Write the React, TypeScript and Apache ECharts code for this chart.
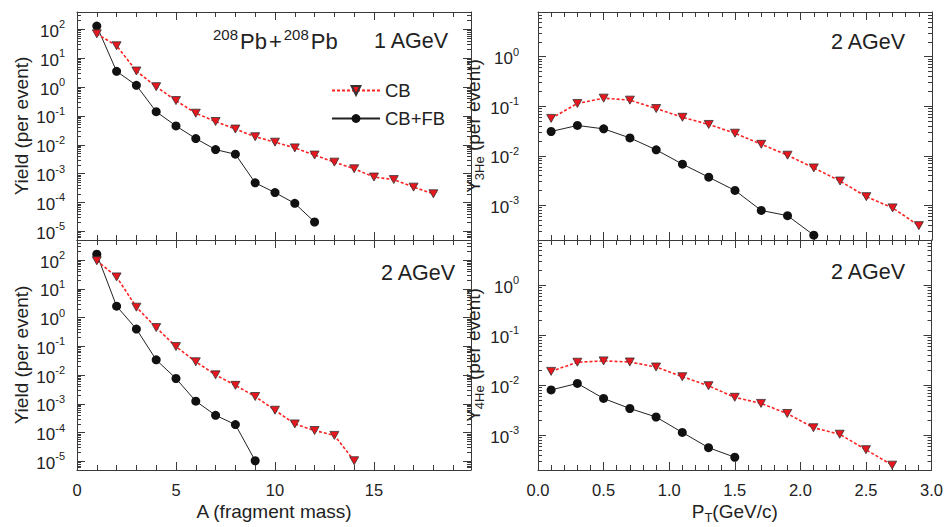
import React, { useEffect, useRef } from "react";
import * as echarts from "echarts";

// ---------- data ----------
// Panel a: 208Pb+208Pb, 1 AGeV, yield vs fragment mass
const massCB1 = [1, 2, 3, 4, 5, 6, 7, 8, 9, 10, 11, 12, 13, 14, 15, 16, 17, 18];
const yieldCB1 = [70, 27, 3.6, 1.03, 0.34, 0.124, 0.064, 0.035, 0.019, 0.0123, 0.0078, 0.0044, 0.0025, 0.00147, 0.00076, 0.00062, 0.00034, 0.0002];
const massFB1 = [1, 2, 3, 4, 5, 6, 7, 8, 9, 10, 11, 12];
const yieldFB1 = [130, 3.5, 1.15, 0.14, 0.045, 0.0164, 0.0068, 0.0047, 0.00048, 0.00022, 0.000093, 0.000021];

// Panel b: 2 AGeV, yield vs fragment mass
const massCB2 = [1, 2, 3, 4, 5, 6, 7, 8, 9, 10, 11, 12, 13, 14];
const yieldCB2 = [95, 26, 2.3, 0.45, 0.098, 0.029, 0.0102, 0.0044, 0.0018, 0.0006, 0.0002, 0.000118, 0.00008, 0.0000105];
const massFB2 = [1, 2, 3, 4, 5, 6, 7, 8, 9];
const yieldFB2 = [160, 2.5, 0.4, 0.034, 0.0076, 0.00124, 0.0004, 0.00019, 0.0000105];

// Panel c: 3He yield vs pT, 2 AGeV
const ptCB3He = [0.1, 0.3, 0.5, 0.7, 0.9, 1.1, 1.3, 1.5, 1.7, 1.9, 2.1, 2.3, 2.5, 2.7, 2.9];
const y3HeCB = [0.057, 0.114, 0.146, 0.133, 0.09, 0.06, 0.043, 0.0286, 0.0171, 0.0103, 0.0057, 0.0031, 0.0015, 0.00089, 0.00039];
const ptFB3He = [0.1, 0.3, 0.5, 0.7, 0.9, 1.1, 1.3, 1.5, 1.7, 1.9, 2.1];
const y3HeFB = [0.031, 0.041, 0.035, 0.023, 0.0132, 0.0068, 0.0037, 0.002, 0.00079, 0.00062, 0.00025];

// Panel d: 4He yield vs pT, 2 AGeV
const ptCB4He = [0.1, 0.3, 0.5, 0.7, 0.9, 1.1, 1.3, 1.5, 1.7, 1.9, 2.1, 2.3, 2.5, 2.7];
const y4HeCB = [0.0188, 0.0287, 0.0305, 0.029, 0.023, 0.0147, 0.0097, 0.0057, 0.0043, 0.0027, 0.0014, 0.00104, 0.00051, 0.00025];
const ptFB4He = [0.1, 0.3, 0.5, 0.7, 0.9, 1.1, 1.3, 1.5];
const y4HeFB = [0.008, 0.0108, 0.0054, 0.0034, 0.0023, 0.00113, 0.00056, 0.00036];

// ---------- ticks ----------
const massMajorTicks = [0, 5, 10, 15];
const massMinorTicks = [1, 2, 3, 4, 6, 7, 8, 9, 11, 12, 13, 14, 16, 17, 18, 19];
const ptMajorTicks = [0, 0.5, 1.0, 1.5, 2.0, 2.5, 3.0];
const ptMinorTicks = [0.1, 0.2, 0.3, 0.4, 0.6, 0.7, 0.8, 0.9, 1.1, 1.2, 1.3, 1.4, 1.6, 1.7, 1.8, 1.9, 2.1, 2.2, 2.3, 2.4, 2.6, 2.7, 2.8, 2.9];
const yieldDecades = [1e-5, 1e-4, 1e-3, 1e-2, 1e-1, 1, 10, 100];
const heDecades = [1e-3, 1e-2, 1e-1, 1];

const seriesNames = ["CB", "CB+FB"];

// ---------- style ----------
const FONT = '"Liberation Sans", Arial, Helvetica, sans-serif';
const INK = "#222";
const AXIS = "#3a3a3a";

function pairs(xs: number[], ys: number[]) {
  return xs.map((x, i) => [x, ys[i]]);
}

function logMinor(min: number, max: number) {
  const out: number[] = [];
  const e0 = Math.floor(Math.log10(min));
  const e1 = Math.ceil(Math.log10(max));
  for (let e = e0; e <= e1; e++) {
    for (let m = 2; m <= 9; m++) {
      const v = Number((m * Math.pow(10, e)).toPrecision(6));
      if (v >= min && v <= max) out.push(v);
    }
  }
  return out;
}

type Panel = {
  grid: { left: number; top: number; width: number; height: number };
  xMin: number;
  xMax: number;
  xMajor: number[];
  xMinor: number[];
  xLabels: boolean;
  xFmt: (v: number) => string;
  xName: string;
  yMin: number;
  yMax: number;
  yDecades: number[];
  yName: string;
  yNameGap: number;
  yLabelMargin: number;
  cb: number[][];
  fb: number[][];
};

const nameRich = {
  a: { fontSize: 19, fontFamily: FONT, color: INK, padding: [0, 0, 3, 0] },
  sub: { fontSize: 13, fontFamily: FONT, color: INK, verticalAlign: "bottom" },
  n: { fontSize: 19, fontFamily: FONT, color: INK },
};

const panels: Panel[] = [
  {
    grid: { left: 77, top: 12, width: 394, height: 228 },
    xMin: 0, xMax: 19.9, xMajor: massMajorTicks, xMinor: massMinorTicks, xLabels: false,
    xFmt: (v) => String(v), xName: "",
    yMin: 5e-6, yMax: 400, yDecades: yieldDecades,
    yName: "{n|Yield (per event)}", yNameGap: 46, yLabelMargin: 12,
    cb: pairs(massCB1, yieldCB1), fb: pairs(massFB1, yieldFB1),
  },
  {
    grid: { left: 77, top: 240, width: 394, height: 230 },
    xMin: 0, xMax: 19.9, xMajor: massMajorTicks, xMinor: massMinorTicks, xLabels: true,
    xFmt: (v) => String(v), xName: "{n|A (fragment mass)}",
    yMin: 5e-6, yMax: 500, yDecades: yieldDecades,
    yName: "{n|Yield (per event)}", yNameGap: 46, yLabelMargin: 12,
    cb: pairs(massCB2, yieldCB2), fb: pairs(massFB2, yieldFB2),
  },
  {
    grid: { left: 538, top: 12, width: 394, height: 228 },
    xMin: 0, xMax: 3, xMajor: ptMajorTicks, xMinor: ptMinorTicks, xLabels: false,
    xFmt: (v) => v.toFixed(1), xName: "",
    yMin: 2e-4, yMax: 8, yDecades: heDecades,
    yName: "{a|Y}{sub|3He}{a| (per event)}", yNameGap: 52, yLabelMargin: 19,
    cb: pairs(ptCB3He, y3HeCB), fb: pairs(ptFB3He, y3HeFB),
  },
  {
    grid: { left: 538, top: 240, width: 394, height: 230 },
    xMin: 0, xMax: 3, xMajor: ptMajorTicks, xMinor: ptMinorTicks, xLabels: true,
    xFmt: (v) => v.toFixed(1), xName: "{a|P}{sub|T}{a|(GeV/c)}",
    yMin: 2e-4, yMax: 8, yDecades: heDecades,
    yName: "{a|Y}{sub|4He}{a| (per event)}", yNameGap: 52, yLabelMargin: 19,
    cb: pairs(ptCB4He, y4HeCB), fb: pairs(ptFB4He, y4HeFB),
  },
];

function buildOption() {
  const grid: any[] = [];
  const xAxis: any[] = [];
  const yAxis: any[] = [];
  const series: any[] = [];
  const lineStyle = { color: AXIS, width: 1 };

  panels.forEach((p, i) => {
    grid.push({ ...p.grid, containLabel: false });
    const xi = xAxis.length;
    const mkX = (pos: string, major: boolean, main: boolean) => ({
      gridIndex: i,
      type: "value",
      position: pos,
      min: p.xMin,
      max: p.xMax,
      axisLine: { show: major, onZero: false, lineStyle },
      axisTick: { show: true, inside: true, length: major ? 8 : 5, customValues: major ? p.xMajor : p.xMinor, lineStyle },
      axisLabel: {
        show: main && p.xLabels,
        customValues: p.xMajor,
        formatter: p.xFmt,
        margin: 11,
        fontSize: 16.5,
        color: INK,
        fontFamily: FONT,
      },
      splitLine: { show: false },
      minorTick: { show: false },
      name: main ? p.xName : "",
      nameLocation: "middle",
      nameGap: 32,
      nameTextStyle: { rich: nameRich },
    });
    xAxis.push(mkX("bottom", true, true), mkX("bottom", false, false), mkX("top", true, false), mkX("top", false, false));

    const yi = yAxis.length;
    const minor = logMinor(p.yMin, p.yMax);
    const mkY = (pos: string, major: boolean, main: boolean) => ({
      gridIndex: i,
      type: "log",
      logBase: 10,
      position: pos,
      min: p.yMin,
      max: p.yMax,
      axisLine: { show: major, onZero: false, lineStyle },
      axisTick: { show: true, inside: true, length: major ? 8 : 4, customValues: major ? p.yDecades : minor, lineStyle },
      axisLabel: {
        show: main,
        customValues: p.yDecades,
        margin: p.yLabelMargin,
        formatter: (v: number) => `{b|10}{s|${Math.round(Math.log10(v))}}`,
        rich: {
          b: { fontSize: 17, fontFamily: FONT, color: INK, padding: [4, 0, 0, 0] },
          s: { fontSize: 11, fontFamily: FONT, color: INK, verticalAlign: "top" },
        },
      },
      splitLine: { show: false },
      minorTick: { show: false },
      name: main ? p.yName : "",
      nameLocation: "middle",
      nameRotate: 90,
      nameGap: p.yNameGap,
      nameTextStyle: { rich: nameRich },
    });
    yAxis.push(mkY("left", true, true), mkY("left", false, false), mkY("right", true, false), mkY("right", false, false));

    series.push({
      type: "line",
      name: seriesNames[0],
      xAxisIndex: xi,
      yAxisIndex: yi,
      data: p.cb,
      symbol: "triangle",
      symbolRotate: 180,
      symbolSize: [9, 8],
      itemStyle: { color: "#e8161e", borderColor: "#333", borderWidth: 0.8 },
      lineStyle: { color: "#ff2222", width: 1.6, type: [3, 2] },
      z: 3,
    });
    series.push({
      type: "line",
      name: seriesNames[1],
      xAxisIndex: xi,
      yAxisIndex: yi,
      data: p.fb,
      symbol: "circle",
      symbolSize: 9,
      itemStyle: { color: "#111" },
      lineStyle: { color: "#222", width: 1 },
      z: 2,
    });
  });

  const annot = (text: string, right: number, y: number) => ({
    type: "text",
    x: right,
    y,
    style: { text, fill: INK, font: `21.5px ${FONT}`, align: "right", verticalAlign: "middle" },
  });

  return {
    animation: false,
    backgroundColor: "#fff",
    grid,
    xAxis,
    yAxis,
    series,
    legend: {
      data: seriesNames,
      orient: "vertical",
      left: 331,
      top: 81,
      padding: 0,
      itemWidth: 48,
      itemHeight: 11,
      itemGap: 9,
      selectedMode: false,
      textStyle: { fontSize: 18.5, color: INK, fontFamily: FONT },
    },
    graphic: [
      {
        type: "text",
        x: 213,
        y: 39.5,
        style: {
          text: "{s|208}{b|Pb}{p|+}{s|208}{b|Pb}",
          verticalAlign: "middle",
          align: "left",
          rich: {
            b: { fontSize: 22, fontFamily: FONT, fill: INK, padding: [4, 0, 0, 0] },
            p: { fontSize: 22, fontFamily: FONT, fill: INK, padding: [4, 2, 0, 2] },
            s: { fontSize: 15, fontFamily: FONT, fill: INK, verticalAlign: "top", padding: [0, 2, 0, 0] },
          },
        },
      },
      annot("1 AGeV", 448, 40.7),
      annot("2 AGeV", 455, 272.7),
      annot("2 AGeV", 905, 41.7),
      annot("2 AGeV", 905, 271.7),
    ],
  };
}

export default function App() {
  const ref = useRef<HTMLDivElement>(null);
  useEffect(() => {
    const chart = echarts.init(ref.current!, undefined, { renderer: "svg" });
    chart.setOption(buildOption() as any);
    return () => chart.dispose();
  }, []);
  return (
    <div
      ref={ref}
      style={{ position: "fixed", left: 0, top: 0, width: 946, height: 527, background: "#fff" }}
    />
  );
}
